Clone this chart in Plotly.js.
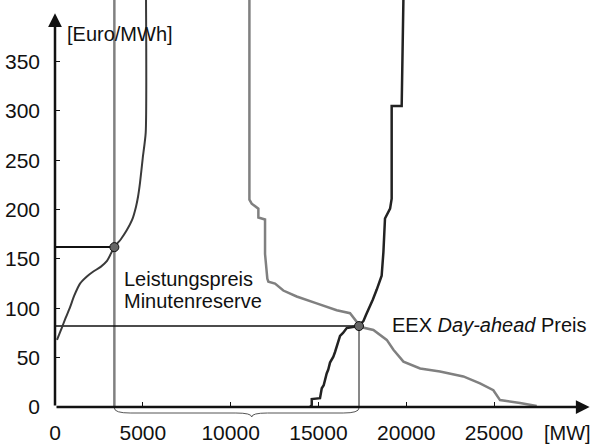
<!DOCTYPE html>
<html lang="de">
<head>
  <meta charset="UTF-8">
  <title>Minutenreserve und EEX Day-ahead</title>
  <script src="https://cdn.plot.ly/plotly-3.0.1.min.js"></script>
  <style>
    html, body { margin: 0; padding: 0; background: #fff; }
  </style>
</head>
<body>
  <div id="plot" style="width:591px;height:444px;"></div>

  <script>
    // Angebotskurve Minutenreserve (Leistungspreis)
    const mrOfferMW = [114, 250, 382, 600, 854, 1100, 1424, 1800, 2164, 2600, 2961, 3377, 3750, 4083, 4400,
                       4613, 4727, 4840, 4994, 5165, 5182];
    const mrOfferPrice = [68, 74, 80, 90, 101, 113, 125, 132, 137, 142, 148, 162, 170, 179, 190,
                          203, 213, 227, 252, 278, 415];

    // EEX Angebotskurve (Verkauf)
    const eexSupplyMW = [14520, 14620, 14620, 15090, 15190, 15300, 15470, 15560, 15660, 15850, 15950, 16040,
                         16130, 16230, 16400, 16610, 17270, 17560, 17700, 17940, 18100, 18320, 18600, 18700,
                         18790, 19080, 19170, 19170, 19740, 19840];
    const eexSupplyPrice = [0, 2, 8, 9, 19, 22, 34, 38, 45, 51, 56, 62,
                            66, 72, 75, 80, 82, 87, 93, 102, 109, 119, 133, 157,
                            191, 201, 211, 305, 305, 415];

    // EEX Nachfragekurve (Kauf)
    const eexDemandMW = [11070, 11070, 11200, 11580, 11580, 11960, 11960, 12090, 12150, 12530, 13000, 13760,
                         14900, 16040, 16800, 17180, 17410, 18130, 18890, 19270, 19840, 20790, 21920, 23250,
                         24200, 24960, 25340, 26480, 27430];
    const eexDemandPrice = [415, 210, 206, 201, 192, 190, 155, 130, 127, 125, 118, 112,
                            105, 98, 95, 86, 81, 78, 68, 58, 46, 39, 36, 31,
                            24, 17, 7, 4, 1];

    // Gleichgewichtspunkte
    const mrQty = 3380, mrPrice = 162;
    const eexQty = 17310, eexPrice = 82;
    const braceTipMW = 11200;

    const xTicks = [0, 5000, 10000, 15000, 20000, 25000];
    const xTickText = ['0', '5000', '10000', '15000', '20000', '25000'];
    const yTicks = [0, 50, 100, 150, 200, 250, 300, 350];
    const xMax = 30520, yMax = 412.4, yTop = 415;

    const font = 'Liberation Sans, Arial, sans-serif';

    const traces = [
      // vertikale Linie Minutenreserve
      { x: [mrQty, mrQty], y: [0, yTop], mode: 'lines', line: { color: '#808080', width: 2.5 } },
      // horizontale Linie Minutenreserve-Preis
      { x: [0, mrQty], y: [mrPrice, mrPrice], mode: 'lines', line: { color: '#111', width: 2 } },
      // horizontale Linie EEX-Preis
      { x: [0, eexQty], y: [eexPrice, eexPrice], mode: 'lines', line: { color: '#111', width: 1.5 } },
      { x: [eexQty, eexQty], y: [0, eexPrice], mode: 'lines', line: { color: '#111', width: 1 } },
      { x: mrOfferMW, y: mrOfferPrice, mode: 'lines', line: { color: '#3a3a3a', width: 2, shape: 'spline', smoothing: 0.6 } },
      { x: eexDemandMW, y: eexDemandPrice, mode: 'lines', line: { color: '#808080', width: 2.5 } },
      { x: eexSupplyMW, y: eexSupplyPrice, mode: 'lines', line: { color: '#222', width: 2.5 } },
      {
        x: [mrQty, eexQty], y: [mrPrice, eexPrice], mode: 'markers',
        marker: { size: 9, color: '#666', line: { color: '#111', width: 1 } }
      }
    ].map(t => Object.assign({ type: 'scatter', hoverinfo: 'skip', showlegend: false }, t));

    // geschweifte Klammer unter der Achse (y in Papier-Einheiten)
    const py = px => -px / 407;
    const bracePath =
      'M ' + mrQty + ',' + py(1) +
      ' Q ' + mrQty + ',' + py(6) + ' ' + (mrQty + 900) + ',' + py(6) +
      ' L ' + (braceTipMW - 900) + ',' + py(6) +
      ' Q ' + braceTipMW + ',' + py(6) + ' ' + braceTipMW + ',' + py(10) +
      ' Q ' + braceTipMW + ',' + py(6) + ' ' + (braceTipMW + 900) + ',' + py(6) +
      ' L ' + (eexQty - 900) + ',' + py(6) +
      ' Q ' + eexQty + ',' + py(6) + ' ' + eexQty + ',' + py(1);

    const txt = { family: font, size: 20, color: '#111' };
    const tickTxt = { family: font, size: 21, color: '#111' };

    const layout = {
      width: 591,
      height: 444,
      margin: { l: 55, r: 0, t: 0, b: 37 },
      paper_bgcolor: '#fff',
      plot_bgcolor: '#fff',
      font: txt,
      xaxis: {
        range: [0, xMax],
        tickvals: xTicks,
        ticktext: xTickText,
        ticks: 'inside', ticklen: 5, tickwidth: 1, tickcolor: '#111',
        ticklabelstandoff: 11,
        showgrid: false, zeroline: false, showline: false,
        tickfont: tickTxt
      },
      yaxis: {
        range: [0, yMax],
        tickvals: yTicks,
        ticks: 'inside', ticklen: 5, tickwidth: 1, tickcolor: '#111',
        ticklabelstandoff: 14,
        showgrid: false, zeroline: false, showline: false,
        tickfont: tickTxt
      },
      shapes: [
        { type: 'path', xref: 'x', yref: 'paper', path: bracePath, line: { color: '#555', width: 1 } }
      ],
      annotations: [
        // Achsenpfeile
        { x: xMax - 80, y: 0, ax: 0, ay: 0, axref: 'x', ayref: 'y', xref: 'x', yref: 'y', text: '',
          showarrow: true, arrowhead: 2, arrowsize: 1.1, arrowwidth: 2.5, arrowcolor: '#111', standoff: 0 },
        { x: 0, y: 399, ax: 0, ay: 0, axref: 'x', ayref: 'y', xref: 'x', yref: 'y', text: '',
          showarrow: true, arrowhead: 2, arrowsize: 1.1, arrowwidth: 2.5, arrowcolor: '#111', standoff: 0 },
        { x: 570, y: 378, xref: 'x', yref: 'y', xanchor: 'left', yanchor: 'middle', showarrow: false,
          text: '[Euro/MWh]', font: txt },
        { x: 29160, y: -0.064, xref: 'x', yref: 'paper', xanchor: 'center', yanchor: 'middle', showarrow: false,
          text: '[MW]', font: txt },
        { x: 3815, y: 130, xref: 'x', yref: 'y', xanchor: 'left', yanchor: 'middle', showarrow: false,
          text: 'Leistungspreis', font: txt },
        { x: 3815, y: 107, xref: 'x', yref: 'y', xanchor: 'left', yanchor: 'middle', showarrow: false,
          text: 'Minutenreserve', font: txt },
        { x: 19080, y: 83, xref: 'x', yref: 'y', xanchor: 'left', yanchor: 'middle', showarrow: false,
          text: 'EEX <i>Day-ahead</i> Preis', font: txt }
      ]
    };

    Plotly.newPlot('plot', traces, layout, { staticPlot: true, displayModeBar: false });
  </script>
</body>
</html>
